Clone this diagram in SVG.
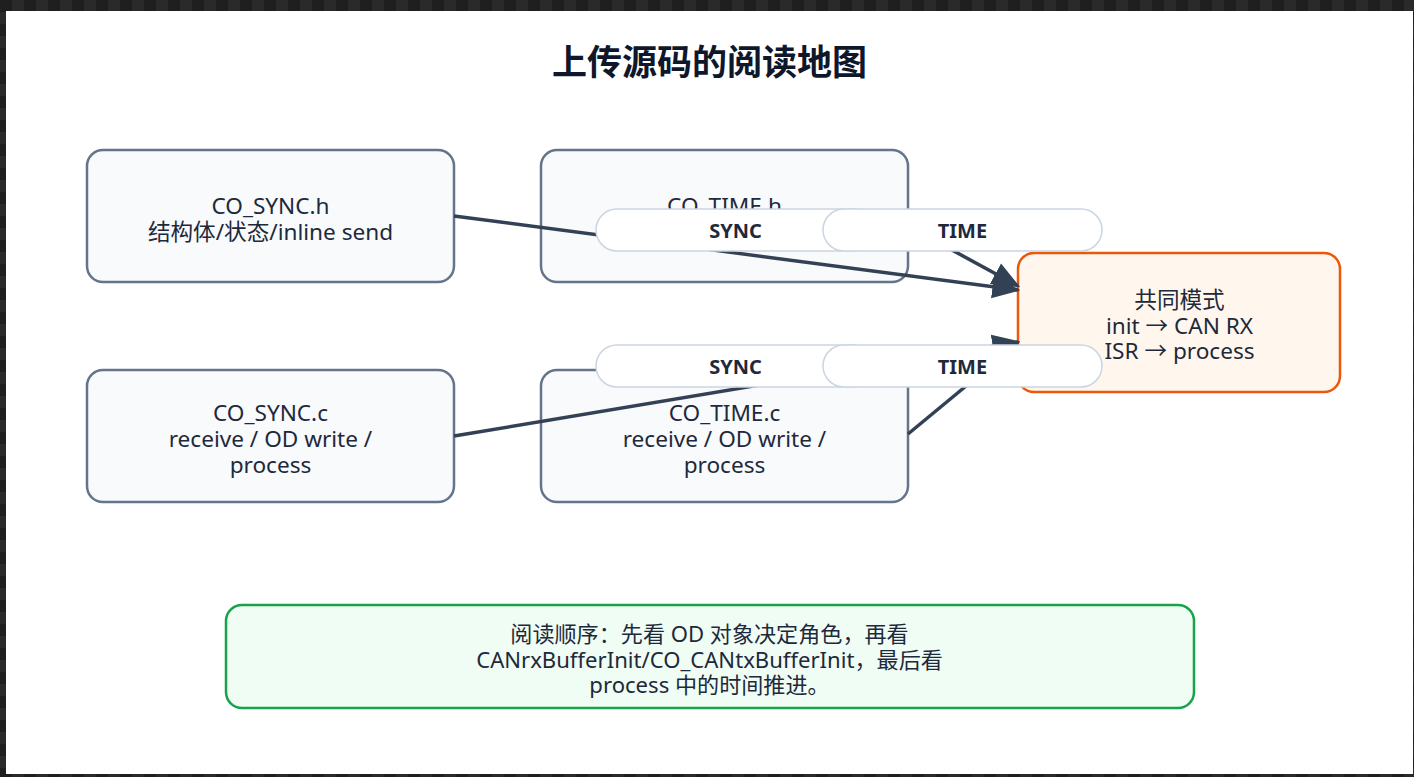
<svg xmlns="http://www.w3.org/2000/svg" width="1414" height="777" viewBox="0 0 1414 777">
<defs>
<pattern id="chk" width="24" height="24" patternUnits="userSpaceOnUse">
<rect width="24" height="24" fill="#1f1f1f"/>
<rect x="12" width="12" height="12" fill="#2a2a2a"/>
<rect y="12" width="12" height="12" fill="#2a2a2a"/>
</pattern>
<marker id="arr" viewBox="0 0 12 10" refX="11" refY="5" markerWidth="8" markerHeight="6.8" orient="auto" markerUnits="strokeWidth">
<path d="M0,0 L12,5 L0,10 z" fill="#334155"/>
</marker>
<style>
.node rect{fill:#f8fafc;stroke:#64748b;stroke-width:2.5}
.t{font-family:"Noto Sans","Noto Sans CJK SC",sans-serif;font-size:22.6px;fill:#1e293b;text-anchor:middle}
.n{font-size:22.1px}
.edge{stroke:#334155;stroke-width:3.5;fill:none;marker-end:url(#arr)}
.pill rect{fill:#ffffff;stroke:#cbd5e1;stroke-width:1.5}
.pl{font-family:"Noto Sans","Noto Sans CJK SC",sans-serif;font-size:20px;font-weight:bold;fill:#1e293b;text-anchor:middle}
</style>
</defs>
<rect width="1414" height="777" fill="url(#chk)"/>
<rect x="6" y="11" width="1407" height="763" fill="#ffffff"/>
<text x="709.5" y="75" style="font-family:'Noto Sans','Noto Sans CJK SC',sans-serif;font-size:35px;font-weight:bold;fill:#0f172a;text-anchor:middle">上传源码的阅读地图</text>

<g id="n-sync-h" class="node"><rect x="87" y="150" width="367" height="132" rx="16"/>
<text class="t" x="270.5" y="214">CO_SYNC.h</text><text class="t" x="270.5" y="240">结构体/状态/inline send</text></g>
<g id="n-time-h" class="node"><rect x="541" y="150" width="367" height="132" rx="16"/>
<text class="t" x="724.5" y="214">CO_TIME.h</text><text class="t" x="724.5" y="240">结构体/状态/inline send</text></g>
<g id="n-sync-c" class="node"><rect x="87" y="370" width="367" height="132" rx="16"/>
<text class="t" x="270.5" y="421">CO_SYNC.c</text><text class="t" x="270.5" y="447">receive / OD write /</text><text class="t" x="270.5" y="473">process</text></g>
<g id="n-time-c" class="node"><rect x="541" y="370" width="367" height="132" rx="16"/>
<text class="t" x="724.5" y="421">CO_TIME.c</text><text class="t" x="724.5" y="447">receive / OD write /</text><text class="t" x="724.5" y="473">process</text></g>
<g id="n-common"><rect x="1018" y="253" width="322" height="139" rx="16" fill="#fff7ed" stroke="#ea580c" stroke-width="2.5"/>
<text class="t" x="1179.5" y="308">共同模式</text><text class="t" x="1179.5" y="333.5">init → CAN RX</text><text class="t" x="1179.5" y="359">ISR → process</text></g>
<g id="n-note"><rect x="226" y="605" width="968" height="103" rx="16" fill="#f0fdf4" stroke="#16a34a" stroke-width="2.5"/>
<text class="t n" x="709.5" y="642">阅读顺序：先看 OD 对象决定角色，再看</text><text class="t n" x="709.5" y="667.5">CANrxBufferInit/CO_CANtxBufferInit，最后看</text><text class="t n" x="709.5" y="693">process 中的时间推进。</text></g>

<g id="connectors">
<line class="edge" x1="454" y1="216" x2="1018" y2="290"/>
<line class="edge" x1="908" y1="226" x2="1018" y2="286"/>
<line class="edge" x1="454" y1="436" x2="1018" y2="342"/>
<line class="edge" x1="908" y1="434" x2="1018" y2="343"/>
<g class="pill"><rect x="596" y="209" width="279" height="42" rx="21"/><text class="pl" x="735.5" y="238">SYNC</text></g>
<g class="pill"><rect x="823" y="209" width="279" height="42" rx="21"/><text class="pl" x="962.5" y="238">TIME</text></g>
<g class="pill"><rect x="596" y="345" width="279" height="42" rx="21"/><text class="pl" x="735.5" y="374">SYNC</text></g>
<g class="pill"><rect x="823" y="345" width="279" height="42" rx="21"/><text class="pl" x="962.5" y="374">TIME</text></g>
</g>
</svg>
